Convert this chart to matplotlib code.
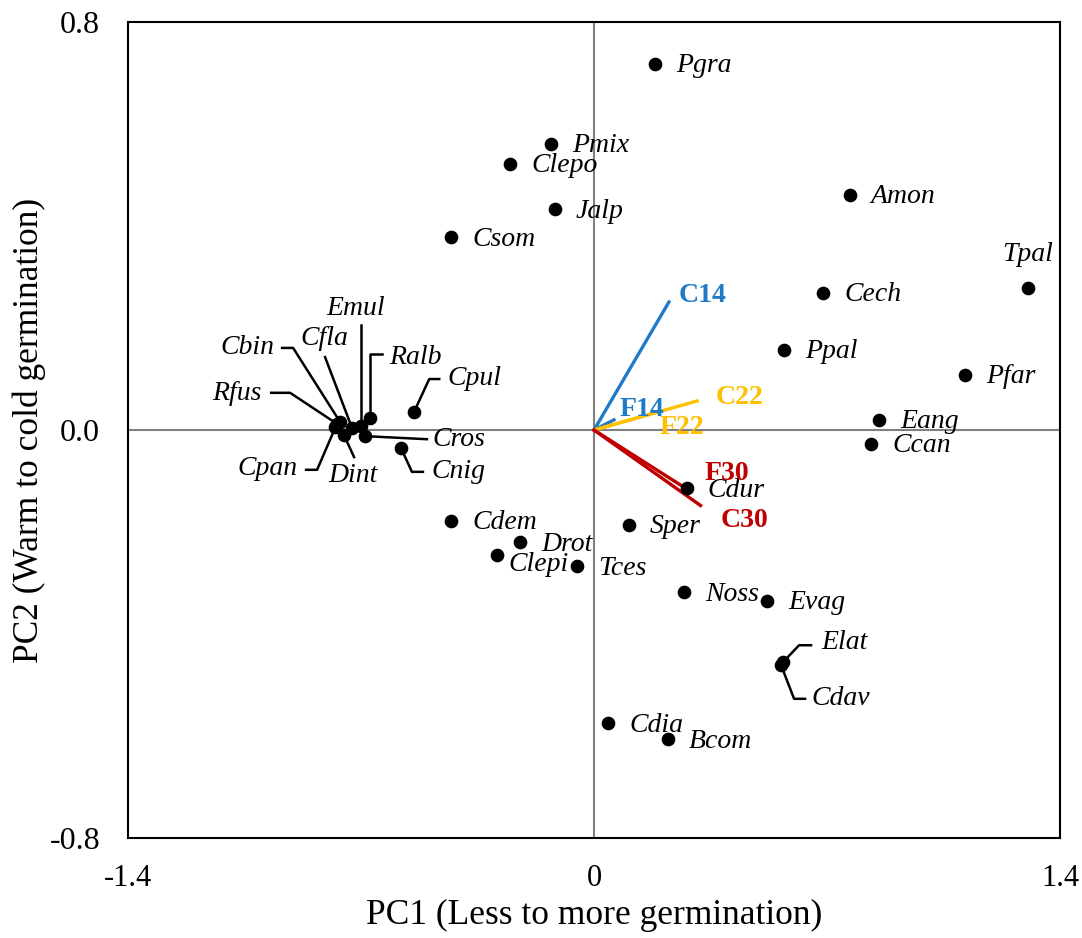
import matplotlib
matplotlib.use("Agg")
import matplotlib.pyplot as plt

plt.rcParams["font.family"] = ["Liberation Serif", "DejaVu Serif"]

# === species scores (PC1, PC2) ===
species = ["Pgra", "Pmix", "Clepo", "Jalp", "Csom", "Amon", "Tpal", "Cech", "Ppal",
           "Pfar", "Eang", "Ccan", "Cdur", "Sper", "Cdem", "Drot", "Clepi", "Tces",
           "Noss", "Evag", "Cdia", "Bcom",
           "Rfus", "Cbin", "Cfla", "Emul", "Ralb", "Cpul", "Cros", "Cnig", "Cpan",
           "Dint", "Elat", "Cdav"]
pc1 = [0.183, -0.129, -0.252, -0.117, -0.429, 0.769, 1.303, 0.688, 0.571,
       1.114, 0.856, 0.832, 0.279, 0.105, -0.429, -0.222, -0.291, -0.051,
       0.270, 0.520, 0.042, 0.222,
       -0.772, -0.763, -0.727, -0.700, -0.673, -0.541, -0.688, -0.580, -0.777,
       -0.751, 0.568, 0.562]
pc2 = [0.718, 0.561, 0.522, 0.433, 0.378, 0.461, 0.278, 0.269, 0.157,
       0.108, 0.020, -0.027, -0.114, -0.186, -0.178, -0.220, -0.245, -0.267,
       -0.318, -0.335, -0.575, -0.606,
       0.012, 0.016, 0.004, 0.008, 0.024, 0.035, -0.012, -0.035, 0.005,
       -0.010, -0.455, -0.461]

# === germination treatment vectors ===
vectors = ["C14", "F14", "C22", "F22", "C30", "F30"]
vec_x = [0.225, 0.060, 0.310, 0.190, 0.320, 0.277]
vec_y = [0.251, 0.020, 0.057, 0.035, -0.148, -0.115]
vec_colors = {"C14": "#1F7AC8", "F14": "#1F7AC8", "C22": "#FFC000",
              "F22": "#FFC000", "C30": "#C00000", "F30": "#C00000"}

# label offsets (pixels) for plain labels
special_offsets = {"Tpal": (0, 34, "center"), "Clepi": (11, -10, "left")}

# labels with leader lines: text position, alignment, elbow points (data)
leaders = {
    "Rfus": ((-1.000, 0.071), "right", [(-0.970, 0.073), (-0.913, 0.073)]),
    "Cbin": ((-0.961, 0.161), "right", [(-0.937, 0.161), (-0.904, 0.161)]),
    "Cfla": ((-0.811, 0.180), "center", [(-0.808, 0.143)]),
    "Emul": ((-0.715, 0.239), "center", [(-0.700, 0.206)]),
    "Ralb": ((-0.616, 0.143), "left", [(-0.637, 0.149), (-0.673, 0.149)]),
    "Cpul": ((-0.441, 0.102), "left", [(-0.465, 0.100), (-0.495, 0.100)]),
    "Cros": ((-0.486, -0.018), "left", [(-0.502, -0.018)]),
    "Cnig": ((-0.489, -0.082), "left", [(-0.514, -0.082), (-0.547, -0.082)]),
    "Cpan": ((-0.892, -0.076), "right", [(-0.865, -0.078), (-0.832, -0.078)]),
    "Dint": ((-0.724, -0.090), "center", [(-0.721, -0.053)]),
    "Elat": ((0.682, -0.416), "left", [(0.652, -0.422), (0.616, -0.422)]),
    "Cdav": ((0.652, -0.527), "left", [(0.634, -0.527), (0.601, -0.527)]),
}

vec_label_offsets = {"C14": (10, 7), "F14": (6, 10), "C22": (18, 3),
                     "F22": (2, -15), "C30": (20, -15), "F30": (18, 15)}

fig = plt.figure(figsize=(10.82, 9.38), dpi=100)
ax = fig.add_axes([0.1183, 0.1066, 0.8614, 0.8699])
ax.set_xlim(-1.4, 1.4)
ax.set_ylim(-0.8, 0.8)

ax.axhline(0, color="#808080", lw=1.5, zorder=0)
ax.axvline(0, color="#808080", lw=1.5, zorder=0)

# --- leader lines: text end -> elbow -> dot ---
for name, (txt, ha, pts) in leaders.items():
    i = species.index(name)
    xs = [p[0] for p in pts] + [pc1[i]]
    ys = [p[1] for p in pts] + [pc2[i]]
    ax.plot(xs, ys, color="black", lw=1.8, zorder=2)
    ax.text(txt[0], txt[1], name, ha=ha, va="center", fontsize=20, style="italic")

# --- vectors ---
for name, vx, vy in zip(vectors, vec_x, vec_y):
    ax.plot([0, vx], [0, vy], color=vec_colors[name], lw=2.4, zorder=3)
    ox, oy = vec_label_offsets[name]
    ax.annotate(name, (vx, vy), xytext=(ox, oy), textcoords="offset pixels",
                ha="left", va="center", fontsize=20, fontweight="bold",
                color=vec_colors[name], zorder=4)

# --- species points ---
ax.scatter(pc1, pc2, s=78, color="black", zorder=5)
for name, x, y in zip(species, pc1, pc2):
    if name in leaders:
        continue
    ox, oy, ha = special_offsets.get(name, (21, -2, "left"))
    ax.annotate(name, (x, y), xytext=(ox, oy), textcoords="offset pixels",
                ha=ha, va="center", fontsize=20, style="italic")

ax.set_xticks([-1.4, 0, 1.4])
ax.set_xticklabels(["-1.4", "0", "1.4"])
ax.set_yticks([-0.8, 0.0, 0.8])
ax.set_yticklabels(["-0.8", "0.0", "0.8"])
ax.tick_params(axis="x", length=0, labelsize=22, pad=19)
ax.tick_params(axis="y", length=0, labelsize=23, pad=20)
for s in ax.spines.values():
    s.set_linewidth(1.5)

ax.set_xlabel("PC1 (Less to more germination)", fontsize=25.5)
ax.set_ylabel("PC2 (Warm to cold germination)", fontsize=25.5)
ax.xaxis.set_label_coords(0.5, -0.075)
ax.yaxis.set_label_coords(-0.088, 0.5)

fig.savefig("out.png", dpi=100)
